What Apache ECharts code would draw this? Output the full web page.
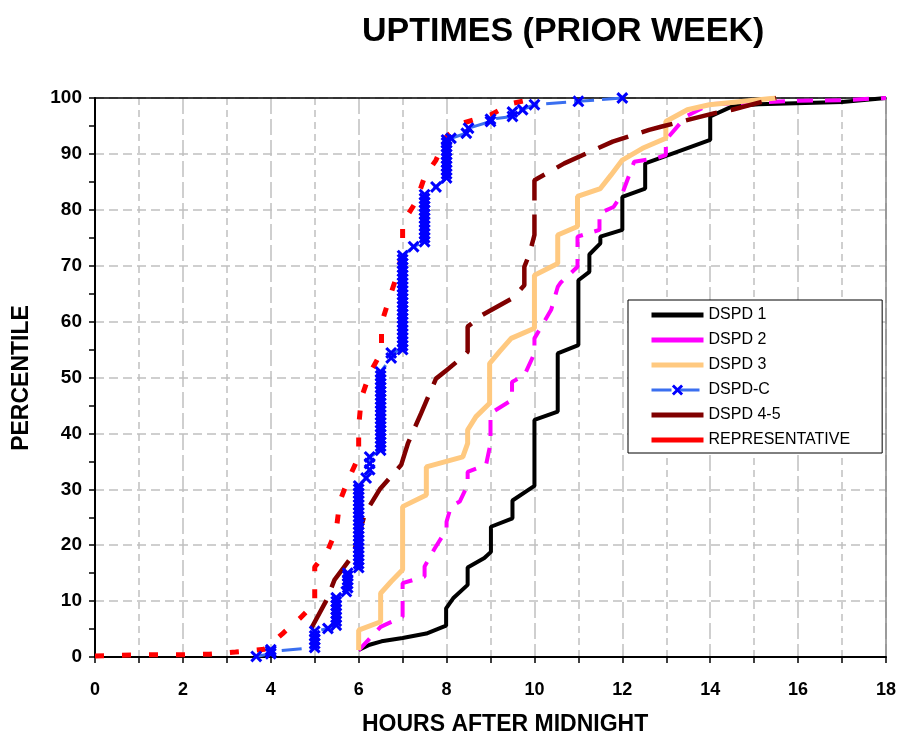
<!DOCTYPE html>
<html>
<head>
<meta charset="utf-8">
<script src="https://cdn.jsdelivr.net/npm/echarts@6/dist/echarts.min.js"></script>
<style>
  html, body { margin: 0; padding: 0; background: #fff; }
  #chart { width: 899px; height: 736px; }
</style>
</head>
<body>
<div id="chart"></div>
<script>
// hours after midnight -> percentile
var dspd1 = [[6.0,1.25],[6.25,2.2],[6.52,2.8],[7.0,3.4],[7.54,4.2],[7.99,5.6],[7.99,8.7],[8.15,10.5],[8.48,12.9],[8.48,16.0],
  [8.86,17.7],[9.01,18.8],[9.01,23.3],[9.5,24.8],[9.5,28.0],[10.0,30.6],[10.0,42.4],[10.53,43.9],[10.53,54.3],[11.0,55.8],
  [11.0,67.4],[11.25,68.9],[11.25,72.0],[11.5,74.0],[11.5,75.2],[12.0,76.4],[12.0,82.3],[12.52,83.8],[12.52,88.3],[12.95,89.5],
  [14.0,92.5],[14.0,96.7],[14.5,98.5],[15.1,98.9],[17.0,99.3],[18.0,100]];

var dspd2 = [[6.0,1.2],[6.5,5.4],[7.0,7.2],[7.0,13.2],[7.5,14.4],[7.5,16.2],[7.73,19.4],[8.0,22.8],[8.0,24.2],[8.1,26.9],
  [8.3,27.8],[8.48,30.8],[8.48,33.1],[8.9,34.4],[9.0,38.2],[9.0,43.6],[9.49,46.0],[9.49,49.2],[9.77,50.4],[10.0,54.3],
  [10.0,57.0],[10.38,62.1],[10.53,66.2],[10.6,67.0],[10.98,69.8],[10.98,75.2],[11.48,76.4],[11.48,79.4],[11.8,80.5],[12.0,82.9],
  [12.27,88.6],[12.76,89.2],[12.99,89.8],[12.99,92.5],[13.45,96.7],[14.0,98.9],[15.0,99.2],[16.0,99.5],[17.0,99.6],[18.0,100]];

var dspd3 = [[6.0,1.25],[6.0,4.8],[6.5,6.3],[6.5,11.4],[6.74,13.5],[7.0,15.6],[7.0,26.9],[7.54,29.0],[7.54,34.0],[8.37,35.8],
  [8.48,38.2],[8.48,40.6],[8.67,43.0],[8.98,45.4],[8.98,52.5],[9.2,54.6],[9.47,57.0],[10.0,58.8],[10.0,68.3],[10.53,70.4],
  [10.53,75.5],[10.98,77.0],[10.98,82.4],[11.5,83.8],[11.74,86.2],[12.0,88.9],[12.46,91.0],[12.99,92.8],[12.99,95.8],[13.48,97.9],
  [13.98,98.8],[15.5,100]];

var dspdC = [[3.67,0.1],[4.0,0.6],[4.0,1.0],[4.0,1.3],
  [5.0,1.7],[5.0,2.4],[5.0,3.1],[5.0,3.8],[5.0,4.6],[5.3,5.1],
  [5.49,5.7],[5.49,6.4],[5.49,7.1],[5.49,7.8],[5.49,8.5],[5.49,9.2],[5.49,9.9],[5.49,10.6],
  [5.72,11.7],[5.75,12.4],[5.75,13.1],[5.75,13.8],[5.75,14.5],[5.75,15.0],
  [6.0,16.0],[6.0,16.7],[6.0,17.4],[6.0,18.1],[6.0,18.8],[6.0,19.5],[6.0,20.2],[6.0,20.9],[6.0,21.6],[6.0,22.3],[6.0,23.0],
  [6.0,23.7],[6.0,24.4],[6.0,25.1],[6.0,25.8],[6.0,26.5],[6.0,27.2],[6.0,27.9],[6.0,28.6],[6.0,29.3],[6.0,30.0],[6.0,30.6],
  [6.17,32.0],[6.25,33.5],[6.25,34.6],[6.25,35.8],
  [6.5,37.0],[6.5,37.7],[6.5,38.4],[6.5,39.1],[6.5,39.8],[6.5,40.5],[6.5,41.2],[6.5,41.9],[6.5,42.6],[6.5,43.3],[6.5,44.0],
  [6.5,44.7],[6.5,45.4],[6.5,46.1],[6.5,46.8],[6.5,47.5],[6.5,48.2],[6.5,48.9],[6.5,49.6],[6.5,50.3],[6.5,51.0],
  [6.74,53.5],[6.74,54.4],
  [7.0,55.0],[7.0,55.7],[7.0,56.4],[7.0,57.1],[7.0,57.8],[7.0,58.5],[7.0,59.2],[7.0,59.9],[7.0,60.6],[7.0,61.3],[7.0,62.0],
  [7.0,62.7],[7.0,63.4],[7.0,64.1],[7.0,64.8],[7.0,65.5],[7.0,66.2],[7.0,66.9],[7.0,67.6],[7.0,68.3],[7.0,69.0],[7.0,69.7],
  [7.0,70.4],[7.0,71.1],[7.0,71.8],
  [7.25,73.4],
  [7.5,74.3],[7.5,75.0],[7.5,75.7],[7.5,76.4],[7.5,77.1],[7.5,77.8],[7.5,78.5],[7.5,79.2],[7.5,79.9],[7.5,80.6],[7.5,81.3],
  [7.5,82.0],[7.5,82.7],
  [7.76,84.1],
  [8.0,85.7],[8.0,86.4],[8.0,87.1],[8.0,87.8],[8.0,88.5],[8.0,89.2],[8.0,89.9],[8.0,90.6],[8.0,91.3],[8.0,92.0],[8.0,92.5],
  [8.1,92.8],[8.45,93.7],[8.5,94.6],[9.0,95.8],[9.0,96.2],[9.5,96.7],[9.5,97.5],[9.73,97.9],[10.0,98.8],[11.0,99.4],[12.0,100]];

var dspd45 = [[4.92,5.1],[5.27,10.2],[5.45,13.8],[5.87,18.2],[6.14,25.6],[6.48,30.0],[6.97,34.4],[7.12,38.2],[7.42,43.6],
  [7.76,49.8],[8.0,51.3],[8.37,53.7],[8.48,54.6],[8.48,59.1],[8.82,61.2],[9.5,64.2],[9.77,66.5],[9.77,69.8],[9.89,72.2],
  [10.0,75.5],[10.0,81.5],[10.0,85.3],[10.68,88.3],[11.78,92.2],[12.61,94.3],[12.9,94.9],[14.1,97.3],[14.5,97.9],[15.5,100]];

var representative = [[0,0.2],[0.6,0.3],[1.2,0.4],[1.9,0.4],[2.6,0.5],[3.2,0.9],[3.86,1.4],[4.27,4.2],[4.66,6.9],[5.0,9.6],
  [5.0,16.1],[5.3,19.1],[5.49,22.7],[5.57,27.8],[5.75,31.5],[6.0,35.8],[6.0,41.2],[6.06,46.3],[6.25,50.7],[6.52,54.6],
  [6.52,59.7],[6.7,64.2],[6.86,68.0],[7.0,72.5],[7.0,77.6],[7.31,81.5],[7.5,85.9],[7.76,88.9],[8.0,93.1],[8.37,95.5],
  [9.01,97.0],[9.47,99.0],[10.07,100]];

var seriesNames = ['DSPD 1', 'DSPD 2', 'DSPD 3', 'DSPD-C', 'DSPD 4-5', 'REPRESENTATIVE'];

var font = 'Arial, "Liberation Sans", sans-serif';
var xMark = 'path://M1.8,0 L5,3.2 L8.2,0 L10,1.8 L6.8,5 L10,8.2 L8.2,10 L5,6.8 L1.8,10 L0,8.2 L3.2,5 L0,1.8 Z';

function lineSeries(name, data, color, width, dash) {
    return {
        name: name,
        type: 'line',
        data: data,
        symbol: 'none',
        lineStyle: { color: color, width: width, type: dash },
        itemStyle: { color: color },
        animation: false
    };
}

// legend entries: plain line, no symbol (except the marked series)
var legendData = seriesNames.map(function (n) {
    if (n === 'DSPD-C') {
        return { name: n, lineStyle: { width: 3, type: [20, 8] } };
    }
    return { name: n, itemStyle: { opacity: 0 }, lineStyle: { width: 5, type: 'solid' } };
});

var option = {
    backgroundColor: '#fff',
    title: {
        text: 'UPTIMES (PRIOR WEEK)',
        left: 357,
        top: 10,
        textStyle: { fontFamily: font, fontSize: 34, fontWeight: 'bold', color: '#000' }
    },
    legend: {
        data: legendData,
        orient: 'vertical',
        left: 628,
        top: 300,
        padding: [7, 32, 5, 21],
        itemGap: 9,
        itemWidth: 52,
        itemHeight: 14,
        borderColor: '#000',
        borderWidth: 1,
        backgroundColor: '#fff',
        textStyle: { fontFamily: font, fontSize: 16, color: '#000' }
    },
    grid: { left: 95, right: 12, top: 98, bottom: 79 },
    xAxis: [{
        type: 'value',
        min: 0,
        max: 18,
        interval: 2,
        axisLine: { lineStyle: { color: '#000', width: 2 } },
        axisTick: { length: 6, lineStyle: { color: '#000', width: 1.5 } },
        minorTick: { show: true, splitNumber: 2, length: 6, lineStyle: { color: '#000', width: 1.5 } },
        axisLabel: { fontFamily: font, fontSize: 18, fontWeight: 'bold', color: '#000', margin: 24 },
        splitLine: { show: true, lineStyle: { color: '#c0c0c0', width: 1.5, type: [16, 5] } },
        minorSplitLine: { show: true, lineStyle: { color: '#c0c0c0', width: 1.5, type: [7, 5] } }
    }, {
        type: 'value',
        min: 0,
        max: 18,
        position: 'top',
        axisLine: { show: true, onZero: false, lineStyle: { color: '#000', width: 1.5 } },
        axisTick: { show: false },
        axisLabel: { show: false },
        splitLine: { show: false }
    }],
    yAxis: [{
        type: 'value',
        min: 0,
        max: 100,
        interval: 10,
        axisLine: { show: true, lineStyle: { color: '#000', width: 2 } },
        axisTick: { show: true, length: 6, lineStyle: { color: '#000', width: 1.5 } },
        minorTick: { show: true, splitNumber: 2, length: 6, lineStyle: { color: '#000', width: 1.5 } },
        axisLabel: { fontFamily: font, fontSize: 19, fontWeight: 'bold', color: '#000', margin: 13 },
        splitLine: { show: true, lineStyle: { color: '#c0c0c0', width: 1.5, type: [9, 5] } }
    }, {
        type: 'value',
        min: 0,
        max: 100,
        position: 'right',
        axisLine: { show: true, onZero: false, lineStyle: { color: '#888', width: 1.5 } },
        axisTick: { show: false },
        axisLabel: { show: false },
        splitLine: { show: false }
    }],
    graphic: [{
        type: 'text',
        left: 362,
        top: 713,
        style: { text: 'HOURS AFTER MIDNIGHT', font: 'bold 23px ' + font, fill: '#000' }
    }, {
        type: 'text',
        x: 22,
        y: 378,
        rotation: Math.PI / 2,
        style: { text: 'PERCENTILE', font: 'bold 23px ' + font, fill: '#000', align: 'center', verticalAlign: 'middle' }
    }],
    series: [
        lineSeries('DSPD 1', dspd1, '#000000', 4, 'solid'),
        lineSeries('DSPD 2', dspd2, '#ff00ff', 4, [16, 12]),
        lineSeries('DSPD 3', dspd3, '#ffc980', 5, 'solid'),
        {
            name: 'DSPD-C',
            type: 'line',
            data: dspdC,
            symbol: xMark,
            symbolSize: 12,
            showSymbol: true,
            lineStyle: { color: '#3a6ff0', width: 3, type: [20, 8] },
            itemStyle: { color: '#0000ff' },
            animation: false
        },
        lineSeries('DSPD 4-5', dspd45, '#800000', 4.5, [32, 14]),
        lineSeries('REPRESENTATIVE', representative, '#ff0000', 5, [9, 18])
    ]
};

var chart = echarts.init(document.getElementById('chart'));
chart.setOption(option);
</script>
</body>
</html>
